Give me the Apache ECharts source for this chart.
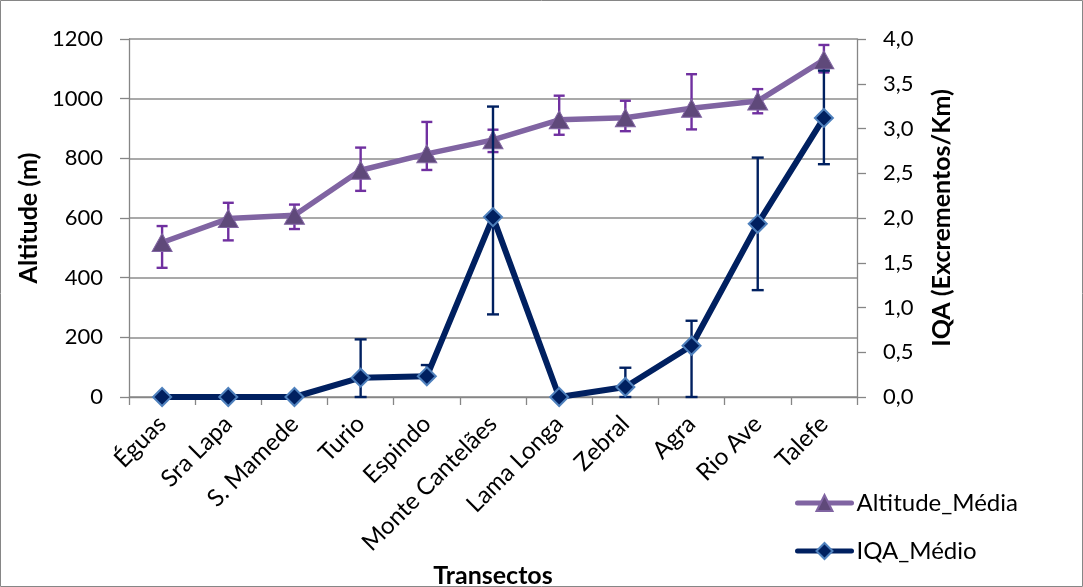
<!DOCTYPE html>
<html>
<head>
<meta charset="utf-8">
<script src="https://cdn.jsdelivr.net/npm/echarts@6/dist/echarts.min.js"></script>
<style>
html,body{margin:0;padding:0;background:#fff;}
#chart{width:1083px;height:587px;}
</style>
</head>
<body>
<div id="chart"></div>
<script>
// ---- data ----
const categories = ['Éguas','Sra Lapa','S. Mamede','Turio','Espindo','Monte Cantelães','Lama Longa','Zebral','Agra','Rio Ave','Talefe'];
const altitudeMean = [518, 598, 609, 760, 815, 862, 929, 936, 968, 992, 1130];
const altitudeLow  = [433, 525, 563, 691, 761, 821, 879, 891, 897, 951, 1088];
const altitudeHigh = [573, 651, 645, 836, 922, 896, 1010, 993, 1082, 1032, 1180];
const iqaMean = [0, 0, 0, 0.216, 0.231, 2.01, 0, 0.112, 0.573, 1.935, 3.118];
const iqaLow  = [null, null, null, 0, 0.2, 0.923, null, 0, 0, 1.194, 2.601];
const iqaHigh = [null, null, null, 0.644, 0.357, 3.245, null, 0.327, 0.852, 2.675, 3.647];
const leftTicks = {min: 0, max: 1200, interval: 200};
const rightTicks = {min: 0, max: 4, interval: 0.5};

const FONT = 'Lato';
const chart = echarts.init(document.getElementById('chart'), null, {renderer: 'canvas'});

function errData(low, high) {
  const out = [];
  low.forEach((l, i) => { if (l !== null && high[i] !== null) out.push([i, l, high[i]]); });
  return out;
}
function makeErrRender(color, capW, lw) {
  return function (params, api) {
    const x = api.value(0);
    const pLo = api.coord([x, api.value(1)]);
    const pHi = api.coord([x, api.value(2)]);
    const st = {stroke: color, lineWidth: lw};
    return {
      type: 'group',
      children: [
        {type: 'line', shape: {x1: pLo[0], y1: pLo[1], x2: pHi[0], y2: pHi[1]}, style: st},
        {type: 'line', shape: {x1: pLo[0] - capW / 2, y1: pLo[1], x2: pLo[0] + capW / 2, y2: pLo[1]}, style: st},
        {type: 'line', shape: {x1: pHi[0] - capW / 2, y1: pHi[1], x2: pHi[0] + capW / 2, y2: pHi[1]}, style: st}
      ]
    };
  };
}

const axisLineStyle = {color: '#868686', width: 1.3};
const tickLabelStyle = {color: '#000', fontFamily: FONT, fontSize: 22};
const catLabelStyle = {color: '#000', fontFamily: FONT, fontSize: 24};
const nameStyle = {color: '#000', fontFamily: FONT, fontSize: 25, fontWeight: 'bold'};

const option = {
  animation: false,
  backgroundColor: '#fff',
  graphic: [{
    type: 'rect', silent: true, z: -10,
    shape: {x: 0.5, y: 0.5, width: 1082, height: 586},
    style: {fill: 'none', stroke: '#868686', lineWidth: 1}
  }],
  grid: {left: 129, right: 226, top: 39, bottom: 190, containLabel: false, outerBoundsMode: 'none'},
  legend: {
    data: ['Altitude_Média', 'IQA_Médio'],
    orient: 'vertical',
    left: 790, top: 486,
    itemWidth: 54, itemHeight: 20, itemGap: 24,
    lineStyle: {width: 5, cap: 'round'},
    textStyle: {color: '#000', fontFamily: FONT, fontSize: 24},
    selectedMode: false
  },
  xAxis: {
    type: 'category',
    data: categories,
    boundaryGap: true,
    name: 'Transectos',
    nameLocation: 'middle',
    nameGap: 166,
    nameTextStyle: nameStyle,
    axisLine: {lineStyle: axisLineStyle},
    axisTick: {show: true, inside: false, length: 8, lineStyle: axisLineStyle, alignWithLabel: false},
    axisLabel: Object.assign({rotate: 45, margin: 23, interval: 0}, catLabelStyle),
    splitLine: {show: false}
  },
  yAxis: [{
    type: 'value',
    min: leftTicks.min, max: leftTicks.max, interval: leftTicks.interval,
    name: 'Altitude (m)',
    nameLocation: 'middle',
    nameRotate: 90,
    nameGap: 78,
    nameTextStyle: nameStyle,
    axisLine: {show: true, lineStyle: axisLineStyle},
    axisTick: {show: true, length: 9, lineStyle: axisLineStyle},
    axisLabel: Object.assign({margin: 26, formatter: v => String(v)}, tickLabelStyle),
    splitLine: {show: true, lineStyle: {color: '#8c8c8c', width: 1.5}}
  }, {
    type: 'value',
    position: 'right',
    min: rightTicks.min, max: rightTicks.max, interval: rightTicks.interval,
    name: 'IQA (Excrementos/Km)',
    nameLocation: 'middle',
    nameRotate: 90,
    nameGap: 72,
    nameTextStyle: nameStyle,
    axisLine: {show: true, lineStyle: axisLineStyle},
    axisTick: {show: true, length: 9, lineStyle: axisLineStyle},
    axisLabel: Object.assign({margin: 26, formatter: v => v.toFixed(1).replace('.', ',')}, tickLabelStyle),
    splitLine: {show: false}
  }],
  series: [{
    name: 'Altitude_Média_err',
    type: 'custom',
    xAxisIndex: 0, yAxisIndex: 0,
    renderItem: makeErrRender('#7030A0', 11, 2.4),
    data: errData(altitudeLow, altitudeHigh),
    encode: {x: 0, y: [1, 2]},
    z: 1, silent: true
  }, {
    name: 'Altitude_Média',
    type: 'line',
    yAxisIndex: 0,
    data: altitudeMean,
    symbol: 'triangle',
    symbolSize: [20, 18],
    showAllSymbol: true,
    lineStyle: {color: '#8064A2', width: 5.5},
    itemStyle: {color: '#5F497A', borderColor: '#8064A2', borderWidth: 1},
    z: 2, silent: true
  }, {
    name: 'IQA_Médio_err',
    type: 'custom',
    xAxisIndex: 0, yAxisIndex: 1,
    renderItem: makeErrRender('#002060', 12, 2.4),
    data: errData(iqaLow, iqaHigh),
    encode: {x: 0, y: [1, 2]},
    z: 3, silent: true
  }, {
    name: 'IQA_Médio',
    type: 'line',
    yAxisIndex: 1,
    data: iqaMean,
    symbol: 'diamond',
    symbolSize: 18,
    showAllSymbol: true,
    lineStyle: {color: '#002060', width: 6},
    itemStyle: {color: '#002060', borderColor: '#4F81BD', borderWidth: 2},
    z: 4, silent: true
  }]
};
chart.setOption(option);
</script>
</body>
</html>
